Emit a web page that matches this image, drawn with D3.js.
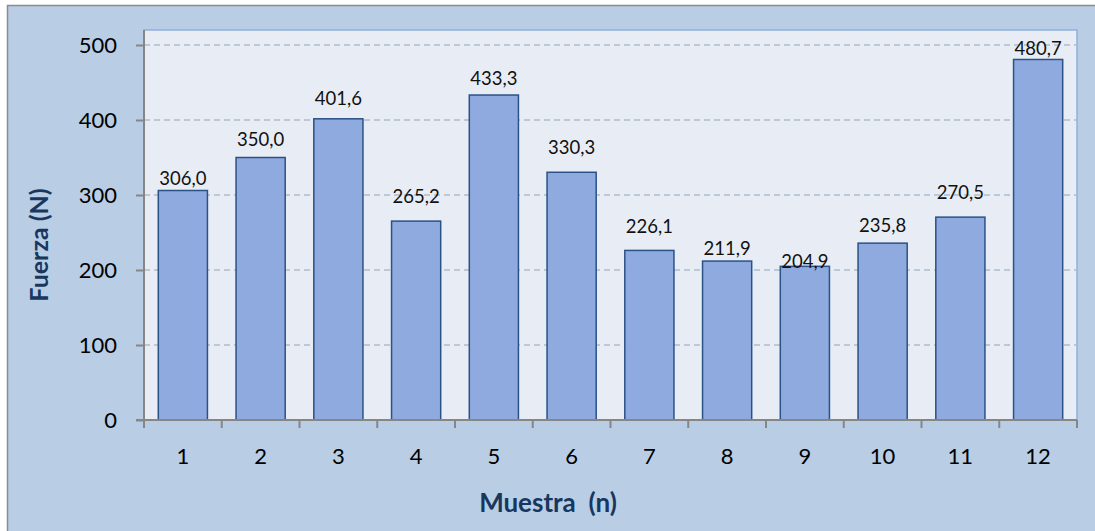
<!DOCTYPE html>
<html>
<head>
<meta charset="utf-8">
<script src="https://cdn.jsdelivr.net/npm/d3@7/dist/d3.min.js"></script>
<style>
  html, body { margin: 0; padding: 0; background: #ffffff; }
  svg { display: block; font-family: Lato, "Open Sans", sans-serif; }
</style>
</head>
<body>
<svg id="chart" width="1095" height="531"></svg>
<script>
// Muestras y fuerza medida (N)
const muestras = ["1", "2", "3", "4", "5", "6", "7", "8", "9", "10", "11", "12"];
const fuerza = [306.0, 350.0, 401.6, 265.2, 433.3, 330.3, 226.1, 211.9, 204.9, 235.8, 270.5, 480.7];
const yTicks = [0, 100, 200, 300, 400, 500];

// Vertical gap (px) between each bar top and its value label
const labelGap = [6, 12, 14, 18, 10, 18, 17, 6, -2, 11, 18, 4];

const fmt = v => v.toFixed(1).replace(".", ",");

const svg = d3.select("#chart");
const plot = { left: 144, right: 1077, top: 30, bottom: 420 };

// chart background
svg.append("rect")
  .attr("x", 7.5).attr("y", 5.5)
  .attr("width", 1100).attr("height", 540)
  .attr("fill", "#b9cde5")
  .attr("stroke", "#8c8c8c").attr("stroke-width", 1.5);

// plot area
svg.append("rect")
  .attr("x", plot.left).attr("y", plot.top)
  .attr("width", plot.right - plot.left).attr("height", plot.bottom - plot.top)
  .attr("fill", "#e8edf5")
  .attr("stroke", "#8eb0dc").attr("stroke-width", 1.5);

const x = d3.scaleBand()
  .domain(muestras)
  .range([plot.left, plot.right])
  .paddingInner(0.368)
  .paddingOuter(0.184);

const y = d3.scaleLinear()
  .domain([0, 520])
  .range([plot.bottom, plot.top]);

// horizontal gridlines
svg.append("g")
  .selectAll("line")
  .data(yTicks.filter(t => t > 0))
  .join("line")
  .attr("x1", plot.left).attr("x2", plot.right)
  .attr("y1", d => y(d)).attr("y2", d => y(d))
  .attr("stroke", "#aebccc")
  .attr("stroke-width", 1.3)
  .attr("stroke-dasharray", "6,4");

// bars
svg.append("g")
  .selectAll("rect")
  .data(fuerza)
  .join("rect")
  .attr("x", (d, i) => x(muestras[i]))
  .attr("y", d => y(d))
  .attr("width", x.bandwidth())
  .attr("height", d => y(0) - y(d))
  .attr("fill", "#8faadf")
  .attr("stroke", "#2a5286")
  .attr("stroke-width", 1.5);

// value labels
svg.append("g")
  .selectAll("text")
  .data(fuerza)
  .join("text")
  .attr("x", (d, i) => x(muestras[i]) + x.bandwidth() / 2)
  .attr("y", (d, i) => y(d) - labelGap[i])
  .attr("text-anchor", "middle")
  .attr("font-size", 18.5)
  .attr("fill", "#111")
  .text(d => fmt(d));

// y axis
const yAxis = svg.append("g")
  .attr("transform", `translate(${plot.left},0)`)
  .call(d3.axisLeft(y).tickValues(yTicks).tickSize(8).tickPadding(19).tickFormat(d3.format("d")));
yAxis.select(".domain").attr("stroke", "#868686").attr("stroke-width", 2).attr("d", `M0,${plot.top}V${plot.bottom}`);
yAxis.selectAll(".tick line").attr("stroke", "#868686").attr("stroke-width", 2);
yAxis.selectAll(".tick text")
  .attr("font-family", "Lato, sans-serif")
  .attr("font-size", 22).attr("fill", "#000").attr("dy", "0.36em");

// x axis
const xAxis = svg.append("g")
  .attr("transform", `translate(0,${plot.bottom})`)
  .call(d3.axisBottom(x).tickSize(0).tickPadding(0));
xAxis.select(".domain").attr("stroke", "#868686").attr("stroke-width", 2)
  .attr("d", `M${plot.left - 8},0H${plot.right}`);
xAxis.selectAll(".tick text")
  .attr("font-family", "Lato, sans-serif")
  .attr("font-size", 22).attr("fill", "#000")
  .attr("y", 44).attr("dy", 0);

// tick marks between categories
const step = x.step();
svg.append("g")
  .selectAll("line")
  .data(d3.range(muestras.length + 1))
  .join("line")
  .attr("x1", i => plot.left + i * step).attr("x2", i => plot.left + i * step)
  .attr("y1", plot.bottom).attr("y2", plot.bottom + 8)
  .attr("stroke", "#868686").attr("stroke-width", 2);

// axis titles
svg.append("text")
  .attr("x", 548).attr("y", 512)
  .attr("text-anchor", "middle")
  .attr("font-size", 26).attr("font-weight", "bold")
  .attr("fill", "#17375e")
  .attr("xml:space", "preserve")
  .text("Muestra  (n)");

svg.append("text")
  .attr("transform", "translate(48,245) rotate(-90)")
  .attr("text-anchor", "middle")
  .attr("font-size", 25).attr("font-weight", "bold")
  .attr("fill", "#17375e")
  .text("Fuerza (N)");
</script>
</body>
</html>
